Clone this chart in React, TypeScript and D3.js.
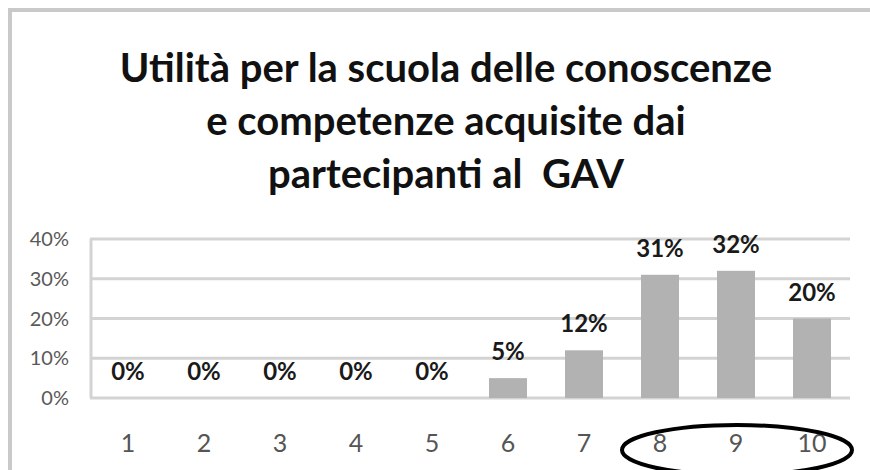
import React, { useRef, useEffect } from "react";
import * as d3 from "d3";

// chart data
const categories = ["1", "2", "3", "4", "5", "6", "7", "8", "9", "10"];
const values = [0, 0, 0, 0, 0, 0.05, 0.12, 0.31, 0.32, 0.2];
const yTicks = [0, 0.1, 0.2, 0.3, 0.4];
const titleLines = [
  "Utilità per la scuola delle conoscenze",
  "e competenze acquisite dai",
  "partecipanti al  GAV",
];
const highlighted = ["8", "9", "10"];

const App = () => {
  const svgRef = useRef<SVGSVGElement>(null);

  useEffect(() => {
    const width = 870;
    const height = 470;
    const font = "Lato, 'Open Sans', sans-serif";

    const x = d3
      .scaleBand<string>()
      .domain(categories)
      .range([90, 850])
      .paddingInner(0.5)
      .paddingOuter(0.25);

    const y = d3.scaleLinear().domain([0, 0.4]).range([398, 239]);

    const svg = d3.select(svgRef.current);
    svg.selectAll("*").remove();
    svg
      .attr("width", width)
      .attr("height", height)
      .style("position", "absolute")
      .style("left", "0px")
      .style("top", "0px")
      .style("background", "#fff");

    // outer chart frame (cut by the window on the right and bottom)
    svg
      .append("rect")
      .attr("x", 10)
      .attr("y", 10)
      .attr("width", 900)
      .attr("height", 500)
      .attr("fill", "#fff")
      .attr("stroke", "#c9c9c9")
      .attr("stroke-width", 4);

    // title
    svg
      .append("g")
      .attr("font-family", font)
      .attr("font-weight", 700)
      .attr("font-size", 40)
      .attr("fill", "#111")
      .attr("text-anchor", "middle")
      .selectAll("text")
      .data(titleLines)
      .join("text")
      .attr("x", 446)
      .attr("y", (d, i) => 82 + i * 53)
      .attr("xml:space", "preserve")
      .style("white-space", "pre")
      .text((d) => d);

    // gridlines
    svg
      .append("g")
      .selectAll("line")
      .data(yTicks)
      .join("line")
      .attr("x1", 90)
      .attr("x2", 850)
      .attr("y1", (d) => y(d))
      .attr("y2", (d) => y(d))
      .attr("stroke", "#d3d3d3")
      .attr("stroke-width", 3);

    // left axis line
    svg
      .append("line")
      .attr("x1", 91)
      .attr("x2", 91)
      .attr("y1", y(0.4))
      .attr("y2", y(0))
      .attr("stroke", "#d3d3d3")
      .attr("stroke-width", 3);

    // y tick labels
    svg
      .append("g")
      .attr("font-family", font)
      .attr("font-size", 20)
      .attr("fill", "#595959")
      .attr("text-anchor", "end")
      .selectAll("text")
      .data(yTicks)
      .join("text")
      .attr("x", 69)
      .attr("y", (d) => y(d) + 7)
      .text((d) => d3.format(".0%")(d));

    // bars
    svg
      .append("g")
      .selectAll("rect")
      .data(values)
      .join("rect")
      .attr("x", (d, i) => x(categories[i])!)
      .attr("y", (d) => y(d))
      .attr("width", x.bandwidth())
      .attr("height", (d) => y(0) - y(d))
      .attr("fill", "#b2b2b2");

    // value labels
    svg
      .append("g")
      .attr("font-family", font)
      .attr("font-weight", 700)
      .attr("font-size", 24)
      .attr("fill", "#1a1a1a")
      .attr("text-anchor", "middle")
      .selectAll("text")
      .data(values)
      .join("text")
      .attr("x", (d, i) => x(categories[i])! + x.bandwidth() / 2)
      .attr("y", (d) => y(d) - 18)
      .text((d) => d3.format(".0%")(d));

    // x tick labels
    svg
      .append("g")
      .attr("font-family", font)
      .attr("font-size", 25)
      .attr("fill", "#555")
      .attr("text-anchor", "middle")
      .selectAll("text")
      .data(categories)
      .join("text")
      .attr("x", (d) => x(d)! + x.bandwidth() / 2)
      .attr("y", 452)
      .text((d) => d);

    // hand-drawn ellipse around the top scores
    const x0 = x(highlighted[0])!;
    const x1 = x(highlighted[highlighted.length - 1])! + x.bandwidth();
    svg
      .append("ellipse")
      .attr("cx", (x0 + x1) / 2 + 1)
      .attr("cy", 450)
      .attr("rx", (x1 - x0) / 2 + 20)
      .attr("ry", 25)
      .attr("fill", "none")
      .attr("stroke", "#000")
      .attr("stroke-width", 4);
  }, []);

  return <svg ref={svgRef}></svg>;
};

export default App;
